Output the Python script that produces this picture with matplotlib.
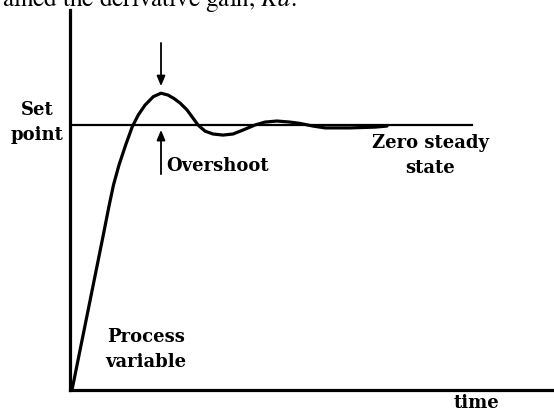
import matplotlib.pyplot as plt

# response of the process variable (set point = 1.0), time in arbitrary units
time = [0.2, 3.33, 3.9, 4.35, 4.9, 5.57, 6.23, 6.83, 7.5, 8.33, 9.1, 9.8,
        10.4, 11.0, 11.7, 12.3, 12.8, 13.5, 14.3, 15.3, 16.3, 17.3, 18.5,
        19.5, 20.7, 22.0, 23.0, 24.3, 25.5, 28.0, 30.5, 31.7]
response = [0.0, 0.585, 0.694, 0.774, 0.849, 0.925, 0.994, 1.038, 1.075,
            1.107, 1.12, 1.113, 1.1, 1.083, 1.057, 1.026, 1.0, 0.977, 0.966,
            0.962, 0.966, 0.981, 1.0, 1.011, 1.015, 1.011, 1.006, 0.996,
            0.989, 0.989, 0.992, 0.996]
SET_POINT = 1.0
SET_POINT_END = 40.2
PEAK_TIME = 9.1

plt.rcParams["mathtext.fontset"] = "stix"
LABEL_FONT = {"family": "DejaVu Serif", "weight": "bold", "size": 13}

fig = plt.figure(figsize=(5.54, 4.12), dpi=100)
ax = fig.add_axes([70 / 554, 22 / 412, 484 / 554, 380 / 412])
ax.set_xlim(0, 48.4)
ax.set_ylim(0, 380 / 265)

ax.plot(time, response, color="black", linewidth=2.3,
        solid_capstyle="round", solid_joinstyle="round")
ax.plot([0, SET_POINT_END], [SET_POINT, SET_POINT], color="black", linewidth=1.6)

for side in ("top", "right"):
    ax.spines[side].set_visible(False)
for side in ("left", "bottom"):
    ax.spines[side].set_linewidth(2.3)
ax.set_xticks([])
ax.set_yticks([])

arrow = dict(arrowstyle="-|>,head_width=0.25,head_length=0.6", color="black", lw=1.3)
ax.annotate("", xy=(PEAK_TIME, 1.136), xytext=(PEAK_TIME, 1.32), arrowprops=arrow)
ax.annotate("", xy=(PEAK_TIME, 0.992), xytext=(PEAK_TIME, 0.804), arrowprops=arrow)

ax.text(-3.3, 1.011, "Set\npoint", ha="center", va="center", linespacing=1.5,
        clip_on=False, **LABEL_FONT)
ax.text(14.8, 0.845, "Overshoot", ha="center", va="center", **LABEL_FONT)
ax.text(36.0, 0.885, "Zero steady\nstate", ha="center", va="center", linespacing=1.5,
        **LABEL_FONT)
ax.text(7.6, 0.153, "Process\nvariable", ha="center", va="center", linespacing=1.5,
        **LABEL_FONT)
ax.text(40.7, -0.049, "time", ha="center", va="center", clip_on=False, **LABEL_FONT)

fig.text(0.004, 1 - 6 / 412, "ained the derivative gain, $Kd$.", family="STIXGeneral",
         fontsize=18, ha="left", va="baseline")

fig.savefig("out.png", dpi=100)
